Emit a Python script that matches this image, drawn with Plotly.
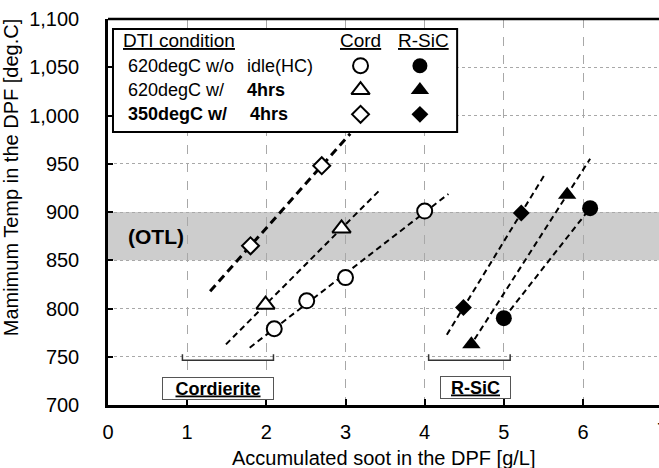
import numpy as np
import plotly.graph_objects as go

# ---------------- data ----------------
# Cordierite (open markers)
cord_circle_x = [2.10, 2.51, 3.00, 4.00]
cord_circle_y = [779, 808, 832, 901]
cord_tri_x = [1.99, 2.95]
cord_tri_y = [804, 883]
cord_dia_x = [1.80, 2.70]
cord_dia_y = [865, 948]
# R-SiC (filled markers)
sic_circle_x = [5.00, 6.09]
sic_circle_y = [790, 904]
sic_tri_x = [4.59, 5.80]
sic_tri_y = [763, 918]
sic_dia_x = [4.49, 5.22]
sic_dia_y = [801, 899]

# x extent of each trend line
cord_circle_fit = [1.79, 4.30]
cord_tri_fit = [1.49, 3.45]
cord_dia_fit = [1.29, 3.06]
sic_circle_fit = [5.00, 6.09]
sic_tri_fit = [4.63, 6.09]
sic_dia_fit = [4.28, 5.52]

otl_band = [850, 900]
cord_range = [0.94, 2.09]
sic_range = [4.05, 5.08]

x_ticks = [0, 1, 2, 3, 4, 5, 6, 7]
y_ticks = [700, 750, 800, 850, 900, 950, 1000, 1050, 1100]

FONT = "Arial, 'Liberation Sans', sans-serif"

fig = go.Figure()

# OTL band
fig.add_shape(type="rect", xref="x domain", yref="y", x0=0, x1=1,
              y0=otl_band[0], y1=otl_band[1], fillcolor="#cdcdcd",
              line_width=0, layer="below")

def fit_line(xs, ys, xr):
    k, b = np.polyfit(xs, ys, 1)
    xx = np.array(xr)
    return xx, k * xx + b

series = [
    (cord_circle_x, cord_circle_y, cord_circle_fit, "circle-open", 15, 2, "6px,4px"),
    (cord_tri_x, cord_tri_y, cord_tri_fit, "triangle-up-open", 16, 2, "6px,4px"),
    (cord_dia_x, cord_dia_y, cord_dia_fit, "diamond-open", 13, 3, "8px,5px"),
    (sic_circle_x, sic_circle_y, sic_circle_fit, "circle", 16, 2, "6px,4px"),
    (sic_tri_x, sic_tri_y, sic_tri_fit, "triangle-up", 16, 2, "6px,4px"),
    (sic_dia_x, sic_dia_y, sic_dia_fit, "diamond", 13, 2, "6px,4px"),
]

for xs, ys, xr, sym, size, lw, dash in series:
    lx, ly = fit_line(xs, ys, xr)
    fig.add_trace(go.Scatter(x=lx, y=ly, mode="lines",
                             line=dict(color="black", width=lw, dash=dash),
                             showlegend=False, hoverinfo="skip"))

for xs, ys, xr, sym, size, lw, dash in series:
    is_open = sym.endswith("-open")
    base = sym.replace("-open", "")
    fig.add_trace(go.Scatter(
        x=xs, y=ys, mode="markers", showlegend=False,
        marker=dict(symbol=base, size=size,
                    color="white" if is_open else "black",
                    line=dict(color="black", width=2 if is_open else 0))))

# material brackets
for xr in (cord_range, sic_range):
    fig.add_shape(type="path",
                  path=f"M {xr[0]},752.5 L {xr[0]},746.5 L {xr[1]},746.5 L {xr[1]},752.5",
                  xref="x", yref="y", line=dict(color="#333333", width=1.5))

# top frame line
fig.add_shape(type="line", xref="paper", yref="paper", x0=0, x1=1, y0=1, y1=1,
              line=dict(color="black", width=2.5))

# legend box
fig.add_shape(type="rect", xref="x", yref="y", x0=0.063, x1=4.41, y0=982.9, y1=1089.6,
              fillcolor="white", line=dict(color="black", width=2), layer="between")

leg_rows_y = [1051.6, 1026.4, 1001.2]
leg_syms = ["circle", "triangle-up", "diamond"]
leg_sizes = [15, 16, 13]
for yy, s, sz in zip(leg_rows_y, leg_syms, leg_sizes):
    fig.add_trace(go.Scatter(x=[3.19], y=[yy], mode="markers", showlegend=False,
                             marker=dict(symbol=s, size=sz, color="white",
                                         line=dict(color="black", width=2))))
    fig.add_trace(go.Scatter(x=[3.94], y=[yy], mode="markers", showlegend=False,
                             marker=dict(symbol=s, size=sz, color="black",
                                         line=dict(width=0))))

ann = []
def txt(x, y, t, size=18, xanchor="left", **kw):
    d = dict(x=x, y=y, xref="x", yref="y", text=t, showarrow=False,
             xanchor=xanchor, yanchor="middle", font=dict(size=size, color="black", family=FONT))
    d.update(kw)
    ann.append(d)

txt(0.164, 1078.2, "<u>DTI condition</u>", size=19)
txt(3.19, 1078.2, "<u>Cord</u>", size=19, xanchor="center")
txt(3.99, 1078.2, "<u>R-SiC</u>", size=19, xanchor="center")
txt(0.227, leg_rows_y[0], "620degC w/o")
txt(1.73, leg_rows_y[0], "idle(HC)")
txt(0.227, leg_rows_y[1], "620degC w/")
txt(1.73, leg_rows_y[1], "<b>4hrs</b>")
txt(0.227, leg_rows_y[2], "<b>350degC w/</b>")
txt(1.77, leg_rows_y[2], "<b>4hrs</b>")
txt(0.6, 875, "<b>(OTL)</b>", size=21, xanchor="center")
txt(1.39, 717.5, "<b><u>Cordierite</u></b>", size=18, xanchor="center",
    bordercolor="#555555", borderwidth=1, borderpad=1, bgcolor="white", width=108, height=19)
txt(4.64, 718.5, "<b><u>R-SiC</u></b>", size=18, xanchor="center",
    bordercolor="#555555", borderwidth=1, borderpad=1, bgcolor="white", width=67, height=19)

# axis titles
ann.append(dict(x=0.5, y=-0.137, xref="paper", yref="paper", showarrow=False,
                text="Accumulated soot in the DPF [g/L]", xanchor="center", yanchor="middle",
                font=dict(size=20, color="black", family=FONT)))
ann.append(dict(x=-0.176, y=0.59, xref="paper", yref="paper", showarrow=False,
                text="Mamimum Temp in the DPF [deg.C]", textangle=-90,
                xanchor="center", yanchor="middle",
                font=dict(size=20, color="black", family=FONT)))
# partially visible last x tick label
ann.append(dict(x=7 / 6.96, y=0, xref="paper", yref="paper", yshift=-25, showarrow=False,
                text=str(x_ticks[-1]), xanchor="center", yanchor="middle",
                font=dict(size=20, color="black", family=FONT)))

fig.update_layout(
    width=659, height=468,
    margin=dict(l=108, r=0, t=19, b=63),
    paper_bgcolor="white", plot_bgcolor="white",
    font=dict(family=FONT, color="black"),
    annotations=ann,
    xaxis=dict(range=[0, 6.96], tickvals=x_ticks, showgrid=True, gridcolor="#a8a8a8",
               griddash="dash", gridwidth=1, zeroline=False, showline=True,
               linecolor="black", linewidth=2.5, ticks="inside", ticklen=6, tickwidth=2,
               tickcolor="black", tickfont=dict(size=20), ticklabelstandoff=7),
    yaxis=dict(range=[700, 1100], tickvals=y_ticks, tickformat=",", showgrid=True,
               gridcolor="#a8a8a8", griddash="dot", gridwidth=1, zeroline=False,
               showline=True, linecolor="black", linewidth=2.5, ticks="inside",
               ticklen=5, tickwidth=2, tickcolor="black", tickfont=dict(size=20),
               ticklabelstandoff=22),
)

fig.write_html("out.html", config={"displayModeBar": False},
               post_script="document.body.style.margin='0';document.body.style.overflow='hidden';")
